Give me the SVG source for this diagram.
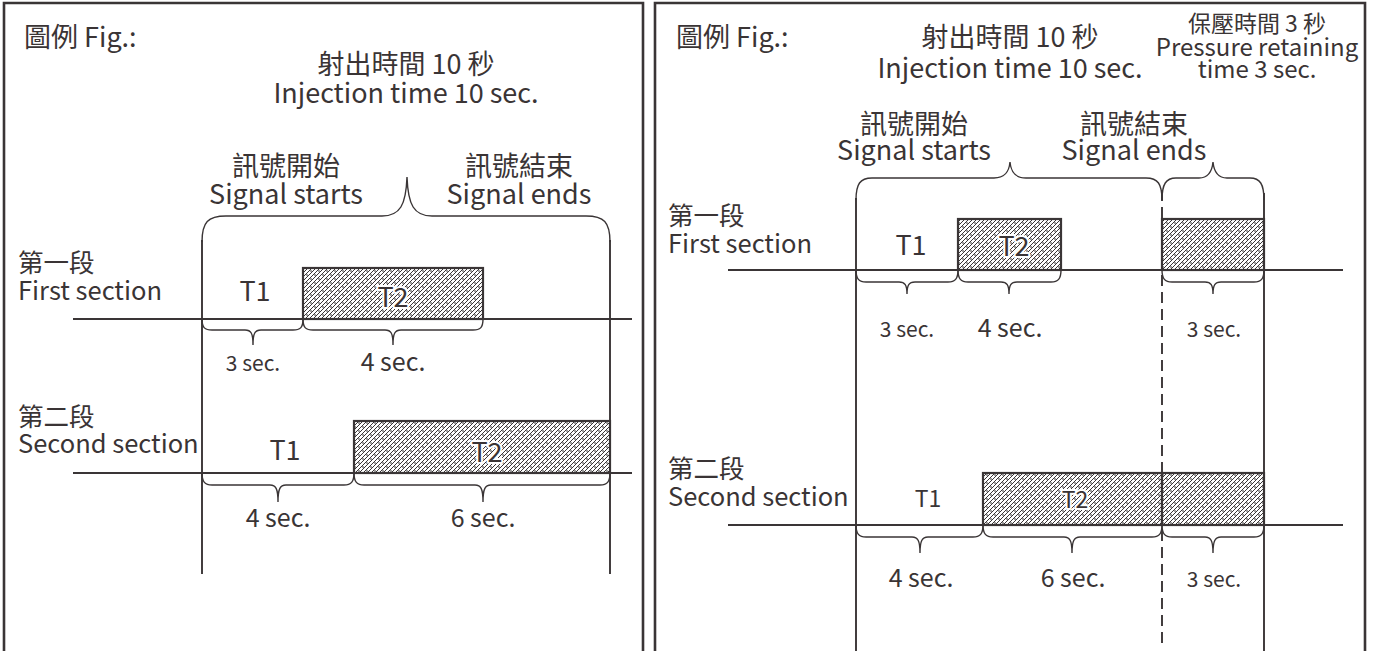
<svg xmlns="http://www.w3.org/2000/svg" width="1373" height="651" viewBox="0 0 1373 651">
<style>
  text { font-family: "Noto Sans CJK TC", "Noto Sans", sans-serif; fill: #3a3435; }
  .t27 { font-size: 27px; }
  .sec { font-size: 25.5px; }
  .t25 { font-size: 25px; }
  .t24 { font-size: 24px; }
  .t23 { font-size: 23px; }
  .t21 { font-size: 21px; }
  .mid { text-anchor: middle; }
  .halo { stroke: #fff; stroke-width: 4px; paint-order: stroke; stroke-linejoin: round; }
  .frame { fill: none; stroke: #3a3536; stroke-width: 2.6; }
  .axis { fill: none; stroke: #3a3536; stroke-width: 1.9; }
  .brace { fill: none; stroke: #3a3536; stroke-width: 1.4; }
  .bar { fill: url(#hatch); stroke: #3a3536; stroke-width: 2.2; }
  .dash { fill: none; stroke: #3a3536; stroke-width: 1.9; stroke-dasharray: 11 6; }
</style>
<defs>
  <pattern id="hatch" width="8" height="8" patternUnits="userSpaceOnUse">
    <rect width="8" height="8" fill="#fff"/>
    <path d="M-1,1 L1,-1 M-1,5 L5,-1 M-1,9 L9,-1 M3,9 L9,3 M7,9 L9,7" stroke="#3a3536" stroke-width="1"/>
    <circle cx="3" cy="3" r="0.8" fill="#2a2627"/>
    <circle cx="7" cy="7" r="0.8" fill="#2a2627"/>
  </pattern>
</defs>
<rect width="1373" height="651" fill="#fff"/>

<!-- LEFT PANEL -->
<g id="left-frame">
  <path class="frame" d="M4,651 V3 H643 V651"/>
  <text class="t27" x="24" y="47">圖例 Fig.:</text>
</g>
<g id="left-title">
  <text class="t27 mid" x="406" y="74">射出時間 10 秒</text>
  <text class="t27 mid" x="406" y="103">Injection time 10 sec.</text>
</g>
<g id="left-signal-start">
  <text class="t27 mid" x="286" y="176">訊號開始</text>
  <text class="t27 mid" x="286" y="204">Signal starts</text>
</g>
<g id="left-signal-end">
  <text class="t27 mid" x="519" y="176">訊號結束</text>
  <text class="t27 mid" x="519" y="204">Signal ends</text>
</g>
<g id="left-first-label">
  <text class="sec" x="18" y="272">第一段</text>
  <text class="sec" x="18" y="300">First section</text>
</g>
<g id="left-second-label">
  <text class="sec" x="18" y="426">第二段</text>
  <text class="sec" x="18" y="453">Second section</text>
</g>
<g id="left-first-T2">
  <rect class="bar" x="303" y="268" width="180" height="51"/>
  <text class="t27 mid halo" x="393" y="307">T2</text>
</g>
<g id="left-first-T1">
  <text class="t27 mid" x="255" y="301">T1</text>
</g>
<g id="left-second-T2">
  <rect class="bar" x="354" y="421" width="256" height="52"/>
  <text class="t27 mid halo" x="487" y="462">T2</text>
</g>
<g id="left-second-T1">
  <text class="t27 mid" x="285" y="460">T1</text>
</g>
<g id="left-durations">
  <text class="t21 mid" x="253" y="371">3 sec.</text>
  <text class="t25 mid" x="393" y="371">4 sec.</text>
  <text class="t25 mid" x="278" y="527">4 sec.</text>
  <text class="t25 mid" x="483" y="527">6 sec.</text>
</g>

<!-- RIGHT PANEL -->
<g id="right-frame">
  <path class="frame" d="M655,651 V3 H1365 V651"/>
  <text class="t27" x="676" y="47">圖例 Fig.:</text>
</g>
<g id="right-title">
  <text class="t27 mid" x="1010" y="47">射出時間 10 秒</text>
  <text class="t27 mid" x="1010" y="78">Injection time 10 sec.</text>
</g>
<g id="right-hold-title">
  <text class="t23 mid" x="1257" y="32">保壓時間 3 秒</text>
  <text class="t24 mid" x="1257" y="56">Pressure retaining</text>
  <text class="t24 mid" x="1257" y="78">time 3 sec.</text>
</g>
<g id="right-signal-start">
  <text class="t27 mid" x="914" y="134">訊號開始</text>
  <text class="t27 mid" x="914" y="160">Signal starts</text>
</g>
<g id="right-signal-end">
  <text class="t27 mid" x="1134" y="134">訊號結束</text>
  <text class="t27 mid" x="1134" y="160">Signal ends</text>
</g>
<g id="right-first-label">
  <text class="sec" x="668" y="225">第一段</text>
  <text class="sec" x="668" y="253">First section</text>
</g>
<g id="right-second-label">
  <text class="sec" x="668" y="478">第二段</text>
  <text class="sec" x="668" y="506">Second section</text>
</g>
<g id="right-first-T2">
  <rect class="bar" x="958" y="219" width="103" height="51"/>
  <text class="t27 mid halo" x="1014" y="256">T2</text>
</g>
<g id="right-first-T1">
  <text class="t27 mid" x="911" y="255">T1</text>
</g>
<g id="right-first-hold">
  <rect class="bar" x="1162" y="219" width="102" height="51"/>
</g>
<g id="right-second-T2">
  <rect class="bar" x="983" y="473" width="179" height="52"/>
  <text class="t23 mid halo" x="1075" y="508">T2</text>
</g>
<g id="right-second-T1">
  <text class="t23 mid" x="928" y="507">T1</text>
</g>
<g id="right-second-hold">
  <rect class="bar" x="1162" y="473" width="102" height="52"/>
</g>
<g id="right-durations">
  <text class="t21 mid" x="907" y="337">3 sec.</text>
  <text class="t25 mid" x="1010" y="337">4 sec.</text>
  <text class="t21 mid" x="1214" y="337">3 sec.</text>
  <text class="t25 mid" x="921" y="587">4 sec.</text>
  <text class="t25 mid" x="1073" y="587">6 sec.</text>
  <text class="t21 mid" x="1214" y="587">3 sec.</text>
</g>

<!-- CONNECTORS: axes, guides, braces -->
<g id="connectors">
  <!-- left panel -->
  <path class="axis" d="M73,319 H632 M73,473 H632"/>
  <path class="axis" d="M202,240 V574 M610,240 V574"/>
  <path class="brace" d="M202,242 C202,222 208,216 226,216 H382 C400,216 406,205 407,177 C408,205 414,216 432,216 H586 C604,216 610,222 610,242"/>
  <path class="brace" d="M202,319 C202,328 205,330 212,330 H245 C251,330 253,333 253,345 C253,333 255,330 261,330 H293 C300,330 303,328 303,319"/>
  <path class="brace" d="M303,319 C303,328 306,330 313,330 H385 C391,330 393,333 393,345 C393,333 395,330 401,330 H473 C480,330 483,328 483,319"/>
  <path class="brace" d="M202,473 C202,482 205,485 212,485 H270 C276,485 278,489 278,502 C278,489 280,485 286,485 H344 C351,485 354,482 354,473"/>
  <path class="brace" d="M354,473 C354,482 357,485 364,485 H475 C481,485 483,489 483,502 C483,489 485,485 491,485 H600 C607,485 610,482 610,473"/>
  <!-- right panel -->
  <path class="axis" d="M728,270 H1343 M728,525 H1343"/>
  <path class="axis" d="M856,198 V651 M1264,193 V651"/>
  <path class="dash" d="M1162,190 V646"/>
  <path class="brace" d="M856,200 C856,184 860,178 872,178 H994 C1005,178 1009,172 1010,162 C1011,172 1015,178 1026,178 H1146 C1158,178 1162,184 1162,200"/>
  <path class="brace" d="M1162,200 C1162,184 1166,178 1176,178 H1199 C1208,178 1212,172 1213,162 C1214,172 1218,178 1227,178 H1250 C1260,178 1264,184 1264,200"/>
  <path class="brace" d="M856,270 C856,279 859,282 866,282 H899 C905,282 907,285 907,294 C907,285 909,282 915,282 H948 C955,282 958,279 958,270"/>
  <path class="brace" d="M958,270 C958,279 961,282 968,282 H1001 C1007,282 1009,285 1009,294 C1009,285 1011,282 1017,282 H1051 C1058,282 1061,279 1061,270"/>
  <path class="brace" d="M1162,270 C1162,279 1165,282 1172,282 H1205 C1211,282 1213,285 1213,294 C1213,285 1215,282 1221,282 H1254 C1261,282 1264,279 1264,270"/>
  <path class="brace" d="M856,525 C856,534 859,537 866,537 H912 C918,537 920,541 920,553 C920,541 922,537 928,537 H973 C980,537 983,534 983,525"/>
  <path class="brace" d="M983,525 C983,534 986,537 993,537 H1064 C1070,537 1072,541 1072,553 C1072,541 1074,537 1080,537 H1152 C1159,537 1162,534 1162,525"/>
  <path class="brace" d="M1162,525 C1162,534 1165,537 1172,537 H1205 C1211,537 1213,541 1213,553 C1213,541 1215,537 1221,537 H1254 C1261,537 1264,534 1264,525"/>
</g>
</svg>
